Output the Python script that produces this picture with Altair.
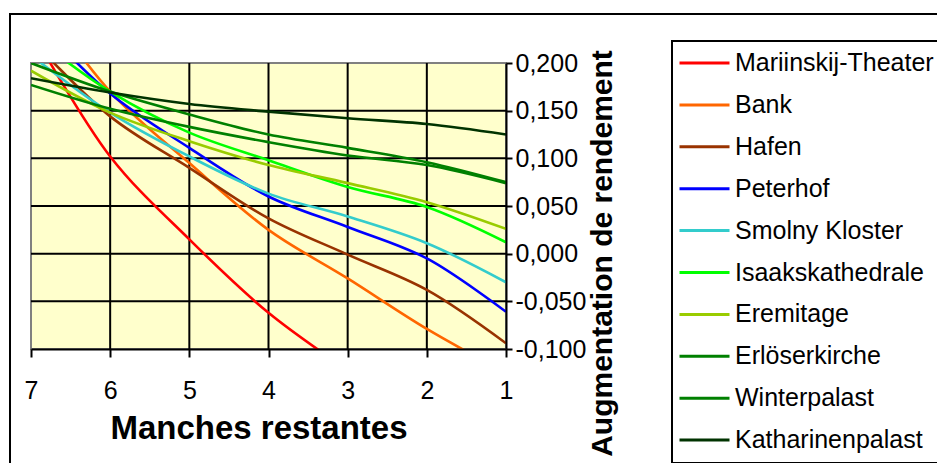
import altair as alt
import pandas as pd

# ---------------- data ----------------
manches = [7, 6, 5, 4, 3, 2, 1]

series_names = ["Mariinskij-Theater", "Bank", "Hafen", "Peterhof", "Smolny Kloster",
                "Isaakskathedrale", "Eremitage", "Erlöserkirche", "Winterpalast",
                "Katharinenpalast"]
series_colors = ["#FF0000", "#FF6600", "#993300", "#0000FF", "#33CCCC",
                 "#00FF00", "#99CC00", "#008000", "#008000", "#003300"]

mariinskij = [0.235, 0.102, 0.015, -0.062, -0.122, -0.175, -0.220]
bank = [0.280, 0.170, 0.095, 0.025, -0.026, -0.079, -0.125]
hafen = [0.225, 0.144, 0.090, 0.037, -0.001, -0.038, -0.094]
peterhof = [0.250, 0.168, 0.111, 0.060, 0.028, -0.005, -0.061]
smolny = [0.208, 0.148, 0.102, 0.063, 0.039, 0.011, -0.030]
isaak = [0.230, 0.170, 0.127, 0.098, 0.070, 0.049, 0.012]
eremitage = [0.192, 0.148, 0.118, 0.093, 0.074, 0.054, 0.026]
erloeser = [0.200, 0.170, 0.146, 0.125, 0.111, 0.096, 0.075]
winter = [0.177, 0.152, 0.133, 0.117, 0.103, 0.093, 0.074]
katharinen = [0.184, 0.169, 0.157, 0.149, 0.142, 0.136, 0.125]

all_values = [mariinskij, bank, hafen, peterhof, smolny, isaak, eremitage,
              erloeser, winter, katharinen]

x_ticks = [7, 6, 5, 4, 3, 2, 1]
y_ticks = [-0.1, -0.05, 0.0, 0.05, 0.1, 0.15, 0.2]
x_grid = [6, 5, 4, 3, 2]
y_grid = [-0.05, 0.0, 0.05, 0.1, 0.15]

rows = []
for name, vals in zip(series_names, all_values):
    for m, v in zip(manches, vals):
        rows.append({"manche": m, "value": v, "serie": name})
df = pd.DataFrame(rows)

FONT = "Liberation Sans"

x_scale = alt.Scale(domain=[1, 7], reverse=True, nice=False, zero=False)
y_scale = alt.Scale(domain=[-0.1, 0.2], nice=False, zero=False)

x_axis = alt.Axis(
    values=x_ticks, format="d", grid=False, zindex=1,
    domainColor="black", domainWidth=2, tickColor="black", tickWidth=2, tickSize=8,
    labelFont=FONT, labelFontSize=25, labelColor="black", labelBaseline="alphabetic",
    labelPadding=41, labelFlush=False, labelOverlap=False,
    title="Manches restantes", titleFont=FONT, titleFontSize=33, titleFontWeight="bold",
    titleColor="black", titleX=227.5, titleY=89, titleAlign="center",
    titleBaseline="alphabetic",
)
y_axis = alt.Axis(
    orient="right", values=y_ticks, grid=False, zindex=1,
    labelExpr="(datum.value < -0.000001 ? '-' : '') + replace(format(abs(datum.value), '.3f'), '.', ',')",
    domainColor="black", domainWidth=2, tickColor="black", tickWidth=2, tickSize=6,
    labelFont=FONT, labelFontSize=25, labelColor="black", labelAlign="left",
    labelBaseline="middle", labelPadding=3, labelFlush=False, labelOverlap=False,
    title="Augmentation de rendement", titleFont=FONT, titleFontSize=30,
    titleFontWeight="bold", titleColor="black", titleAngle=270, titleX=105.5, titleY=190,
    titleAlign="center", titleBaseline="alphabetic",
)

vgrid = alt.Chart(pd.DataFrame({"manche": x_grid})).mark_rule(
    color="black", strokeWidth=2
).encode(x=alt.X("manche:Q", scale=x_scale, axis=x_axis))

hgrid = alt.Chart(pd.DataFrame({"value": y_grid})).mark_rule(
    color="black", strokeWidth=2
).encode(y=alt.Y("value:Q", scale=y_scale, axis=y_axis))

lines = alt.Chart(df).mark_line(
    clip=True, strokeWidth=2.6, interpolate="catmull-rom"
).encode(
    x=alt.X("manche:Q", scale=x_scale, axis=x_axis),
    y=alt.Y("value:Q", scale=y_scale, axis=y_axis),
    color=alt.Color(
        "serie:N",
        scale=alt.Scale(domain=series_names, range=series_colors),
        sort=series_names,
        legend=alt.Legend(
            title=None, orient="none", legendX=641, legendY=-22,
            symbolType="stroke", symbolSize=2500, symbolStrokeWidth=3,
            clipHeight=32, rowPadding=9.9, padding=6,
            labelFont=FONT, labelFontSize=25, labelColor="black",
            labelOffset=4, labelLimit=400, labelBaseline="middle",
            fillColor="white", strokeColor="black",
        ),
    ),
)

frame_src = pd.DataFrame({"k": [0]})
frame_v = alt.Chart(frame_src).mark_rule(color="black", strokeWidth=2).encode(
    x=alt.value(-21), y=alt.value(-49), y2=alt.value(500))
frame_h = alt.Chart(frame_src).mark_rule(color="black", strokeWidth=2).encode(
    x=alt.value(-22), x2=alt.value(1000), y=alt.value(-49))

chart = alt.layer(vgrid, hgrid, lines, frame_v, frame_h).properties(
    width=475, height=286,
    autosize=alt.AutoSizeParams(type="none"),
    padding={"left": 31, "top": 63, "right": 431, "bottom": 114},
    background="white",
).configure_view(
    fill="#FFFFCC", stroke="#808080", strokeWidth=2
).configure_legend(
    strokeWidth=2
)

chart.save("out.html", embed_options={"renderer": "svg", "actions": False})
